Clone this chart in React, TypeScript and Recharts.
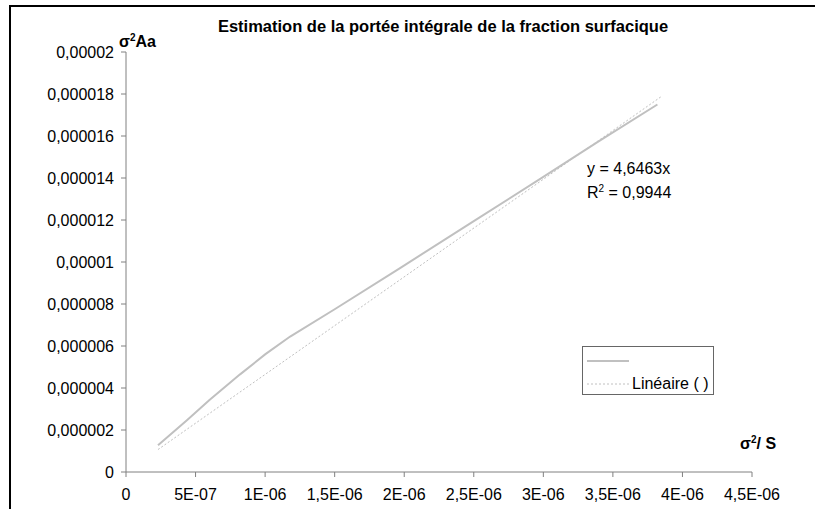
import { Line, LineChart, XAxis, YAxis } from "recharts";

// measured points (sigma^2 / S, sigma^2 Aa)
const xVals = [2.3e-7, 4.4e-7, 6.0e-7, 8.2e-7, 1.0e-6, 1.18e-6, 1.5e-6, 1.97e-6, 2.5e-6, 3.0e-6, 3.4e-6, 3.82e-6];
const yVals = [1.27e-6, 2.48e-6, 3.43e-6, 4.65e-6, 5.6e-6, 6.45e-6, 7.75e-6, 9.71e-6, 11.95e-6, 14.05e-6, 15.76e-6, 17.5e-6];

// linear trend y = 4.6463x, drawn across the data range
const slope = 4.6463;
const trendX = [2.3e-7, 3.85e-6];

const seriesNames = ["", "Linéaire ( )"];

const xTicks = [0, 5e-7, 1e-6, 1.5e-6, 2e-6, 2.5e-6, 3e-6, 3.5e-6, 4e-6, 4.5e-6];
const xTickLabels = ["0", "5E-07", "1E-06", "1,5E-06", "2E-06", "2,5E-06", "3E-06", "3,5E-06", "4E-06", "4,5E-06"];
const yTicks = [0, 2e-6, 4e-6, 6e-6, 8e-6, 1e-5, 1.2e-5, 1.4e-5, 1.6e-5, 1.8e-5, 2e-5];
const yTickLabels = ["0", "0,000002", "0,000004", "0,000006", "0,000008", "0,00001", "0,000012", "0,000014", "0,000016", "0,000018", "0,00002"];

const measured = xVals.map((x, i) => ({ x, y: yVals[i] }));
const trend = trendX.map((x) => ({ x, y: slope * x }));

const font = "'Liberation Sans', Arial, sans-serif";
const grey = "#c0c0c0";
const fs = 16;

const fmt = (ticks: number[], labels: string[]) => (v: number) => {
  const i = ticks.findIndex((t) => Math.abs(t - v) < 1e-9);
  return i >= 0 ? labels[i] : String(v);
};

function LegendBox() {
  return <div style={{ position: "absolute", left: 582, top: 346, border: "1px solid #666", width: 132, height: 49, background: "#fff", fontSize: fs, boxSizing: "border-box", paddingTop: 2 }}>
    {seriesNames.map((name, i) => <div key={i} style={{ display: "flex", alignItems: "center", height: 23, marginLeft: 3 }}>
      <svg width={44} height={6}><line x1={1} y1={3} x2={43} y2={3} stroke={grey} strokeWidth={i === 0 ? 2 : 1} strokeDasharray={i === 0 ? undefined : "2 2"} /></svg>
      <span style={{ marginLeft: 2, color: "#000" }}>{name}</span>
    </div>)}
  </div>;
}

export default function App() {
  return <div style={{ position: "fixed", left: 0, top: 0, width: 815, height: 509, overflow: "hidden", background: "#fff", fontFamily: font }}>
    <div style={{ position: "absolute", left: 9, top: 5, width: 900, height: 600, borderTop: "2px solid #000", borderLeft: "2px solid #000" }} />
    <div style={{ position: "absolute", left: 0, top: 0 }}>
      <LineChart width={815} height={509} margin={{ top: 52, right: 63, bottom: 0, left: 26 }}>
        <XAxis type="number" dataKey="x" domain={[0, 4.5e-6]} ticks={xTicks} tickFormatter={fmt(xTicks, xTickLabels)} interval={0}
          height={37} stroke="#808080" tickSize={5} tickMargin={12} tick={{ fill: "#000", fontSize: fs, fontFamily: font }} allowDataOverflow />
        <YAxis type="number" dataKey="y" domain={[0, 2e-5]} ticks={yTicks} tickFormatter={fmt(yTicks, yTickLabels)} interval={0}
          width={100} stroke="#808080" tickSize={5} tickMargin={7} tick={{ fill: "#000", fontSize: fs, fontFamily: font }} allowDataOverflow />
        <Line data={measured} dataKey="y" name={seriesNames[0]} stroke={grey} strokeWidth={2} dot={false} isAnimationActive={false} />
        <Line data={trend} dataKey="y" name={seriesNames[1]} stroke={grey} strokeWidth={1} strokeDasharray="2 2" dot={false} isAnimationActive={false} />
      </LineChart>
    </div>
    <LegendBox />
    <div style={{ position: "absolute", left: 0, width: 886, top: 17, textAlign: "center", fontWeight: "bold", fontSize: 16.5 }}>Estimation de la portée intégrale de la fraction surfacique</div>
    <div style={{ position: "absolute", left: 119, top: 32, fontWeight: "bold", fontSize: fs }}>σ<sup style={{ fontSize: 10 }}>2</sup>Aa</div>
    <div style={{ position: "absolute", left: 740, top: 434, fontWeight: "bold", fontSize: fs }}>σ<sup style={{ fontSize: 10 }}>2</sup>/ S</div>
    <div style={{ position: "absolute", left: 587, top: 159, fontSize: fs, lineHeight: "20px" }}>
      <div>y = 4,6463x</div>
      <div>R<sup style={{ fontSize: 10 }}>2</sup> = 0,9944</div>
    </div>
  </div>;
}
